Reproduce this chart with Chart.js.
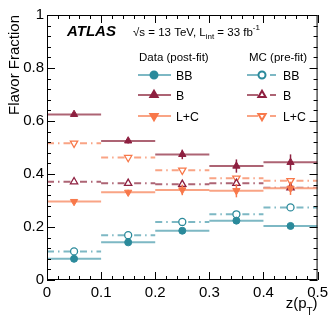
<!DOCTYPE html>
<html>
<head>
<meta charset="utf-8">
<script src="https://cdn.jsdelivr.net/npm/chart.js@4.4.1/dist/chart.umd.min.js"></script>
<style>
  body { margin: 0; background: #fff; }
  #wrap { width: 332px; height: 319px; }
</style>
</head>
<body>
<div id="wrap"><canvas id="flavorChart"></canvas></div>
<script>
// bin edges in z(pT)
const bins = [0, 0.1, 0.2, 0.3, 0.4, 0.5];

// Data (post-fit)
const dataBB = [0.080, 0.142, 0.186, 0.224, 0.204];
const dataBBErr = [0.004, 0.005, 0.006, 0.008, 0.008];
const dataB = [0.625, 0.525, 0.474, 0.430, 0.444];
const dataBErr = [0.004, 0.010, 0.018, 0.025, 0.030];
const dataLC = [0.296, 0.331, 0.340, 0.337, 0.346];
const dataLCErr = [0.004, 0.010, 0.020, 0.025, 0.025];

// MC (pre-fit)
const mcBB = [0.108, 0.169, 0.219, 0.248, 0.274];
const mcB = [0.371, 0.365, 0.361, 0.365, 0.348];
const mcLC = [0.516, 0.462, 0.414, 0.384, 0.375];

const yTicks = ['0', '0.2', '0.4', '0.6', '0.8', '1'];
const xTicks = ['0', '0.1', '0.2', '0.3', '0.4', '0.5'];

const teal = '#2b8a9b', tealLine = '#7db8c4';
const red = '#8e2040', redLine = '#ad6474';
const orange = '#f8784a', orangeLine = '#f9a485';
const mcDash = [7, 4, 1.5, 4];
const FONT = '"Liberation Sans", Arial, Helvetica, sans-serif';
const RC = 3.5, RT = 4.2;

const centers = bins.slice(0, -1).map((b, i) => (b + bins[i + 1]) / 2);

function steps(values) {
    const pts = [];
    values.forEach((v, i) => {
        pts.push({x: bins[i], y: v}, {x: bins[i + 1], y: v}, {x: bins[i + 1], y: null});
    });
    return pts;
}
function markers(values) {
    return values.map((v, i) => ({x: centers[i], y: v}));
}

function lineSet(values, color, dash) {
    return {
        data: steps(values), borderColor: color, borderWidth: 2,
        borderDash: dash || [], pointRadius: 0, spanGaps: false, order: 2
    };
}
function markerSet(values, color, style, radius, rotation, open, err) {
    return {
        data: markers(values), showLine: false, pointStyle: style,
        pointRadius: radius, pointRotation: rotation || 0,
        pointBackgroundColor: open ? '#fff' : color, pointBorderColor: color,
        pointBorderWidth: open ? 1.3 : 1, order: open ? 1 : 0, errors: err
    };
}

const errorBars = {
    id: 'errorBars',
    afterDatasetsDraw(chart) {
        const c = chart.ctx, xs = chart.scales.x, ys = chart.scales.y;
        c.save();
        c.lineWidth = 1.5;
        chart.data.datasets.forEach(ds => {
            if (!ds.errors) return;
            c.strokeStyle = ds.pointBorderColor;
            ds.data.forEach((p, i) => {
                const px = xs.getPixelForValue(p.x);
                c.beginPath();
                c.moveTo(px, ys.getPixelForValue(p.y - ds.errors[i]));
                c.lineTo(px, ys.getPixelForValue(p.y + ds.errors[i]));
                c.stroke();
            });
        });
        c.restore();
    }
};

const frame = {
    id: 'frame',
    afterDraw(chart) {
        const c = chart.ctx, a = chart.chartArea;
        const xs = chart.scales.x, ys = chart.scales.y;
        c.save();
        c.strokeStyle = '#000';
        c.lineWidth = 1;
        c.strokeRect(a.left + 0.5, a.top + 0.5, a.right - a.left - 1, a.bottom - a.top - 1);
        c.beginPath();
        for (let k = 0; k <= 25; k++) {
            const py = Math.round(ys.getPixelForValue(k * 0.04)) + 0.5;
            const len = k % 5 === 0 ? 8 : 4;
            c.moveTo(a.left, py); c.lineTo(a.left + len, py);
            c.moveTo(a.right, py); c.lineTo(a.right - len, py);
        }
        for (let k = 0; k <= 25; k++) {
            const px = Math.round(xs.getPixelForValue(k * 0.02)) + 0.5;
            const len = k % 5 === 0 ? 8 : 4;
            c.moveTo(px, a.bottom); c.lineTo(px, a.bottom - len);
            c.moveTo(px, a.top); c.lineTo(px, a.top + len);
        }
        c.stroke();

        // axis titles
        c.fillStyle = '#000';
        c.font = '15px ' + FONT;
        c.save();
        c.translate(19, a.top);
        c.rotate(-Math.PI / 2);
        c.textAlign = 'right';
        c.fillText('Flavor Fraction', 0, 0);
        c.restore();

        c.textAlign = 'left';
        const big = '15px ' + FONT, small = '10px ' + FONT;
        c.font = big; const w1 = c.measureText('z(p').width, w3 = c.measureText(')').width;
        c.font = small; const w2 = c.measureText('T').width;
        let x0 = a.right - (w1 + w2 + w3);
        c.font = big; c.fillText('z(p', x0, 308);
        c.font = small; c.fillText('T', x0 + w1, 315);
        c.font = big; c.fillText(')', x0 + w1 + w2, 308);

        // ATLAS label
        c.font = 'italic bold 15px ' + FONT;
        c.fillText('ATLAS', 67, 36);
        const t = '11.5px ' + FONT, ts = '8px ' + FONT;
        let x = 133;
        const parts = [['\u221As = 13 TeV, L', t, 36], ['int', ts, 39], [' = 33 fb', t, 36], ['-1', ts, 30]];
        parts.forEach(p => { c.font = p[1]; c.fillText(p[0], x, p[2]); x += c.measureText(p[0]).width; });

        // legend
        c.font = '11.5px ' + FONT;
        c.fillText('Data (post-fit)', 139, 61);
        c.fillText('MC (pre-fit)', 249, 61);
        const rows = [
            ['BB', teal, tealLine, 'circle', RC, 0, 75],
            ['B', red, redLine, 'triangle', RT, 0, 95],
            ['L+C', orange, orangeLine, 'triangle', RT, 180, 116]
        ];
        c.font = '12.3px ' + FONT;
        rows.forEach(r => {
            const [lab, col, lcol, style, rad, rot, y] = r;
            c.lineWidth = 2;
            c.strokeStyle = lcol;
            c.beginPath(); c.moveTo(138, y); c.lineTo(171, y); c.stroke();
            c.beginPath(); c.moveTo(247, y); c.lineTo(258, y); c.moveTo(270, y); c.lineTo(276, y); c.stroke();
            c.fillStyle = col; c.strokeStyle = col;
            Chart.helpers.drawPoint(c, {pointStyle: style, radius: rad, rotation: rot, borderWidth: 1}, 154, y);
            c.fillStyle = '#fff';
            Chart.helpers.drawPoint(c, {pointStyle: style, radius: rad, rotation: rot, borderWidth: 1.3}, 262, y);
            c.fillStyle = '#000';
            c.fillText(lab, 176, y + 4.5);
            c.fillText(lab, 283, y + 4.5);
        });
        c.restore();
    }
};

new Chart(document.getElementById('flavorChart'), {
    type: 'line',
    data: {
        datasets: [
            markerSet(dataBB, teal, 'circle', RC, 0, false, dataBBErr),
            markerSet(dataB, red, 'triangle', RT, 0, false, dataBErr),
            markerSet(dataLC, orange, 'triangle', RT, 180, false, dataLCErr),
            markerSet(mcBB, teal, 'circle', RC, 0, true),
            markerSet(mcB, red, 'triangle', RT, 0, true),
            markerSet(mcLC, orange, 'triangle', RT, 180, true),
            lineSet(dataBB, tealLine),
            lineSet(dataB, redLine),
            lineSet(dataLC, orangeLine),
            lineSet(mcBB, tealLine, mcDash),
            lineSet(mcB, redLine, mcDash),
            lineSet(mcLC, orangeLine, mcDash)
        ]
    },
    options: {
        responsive: true,
        maintainAspectRatio: false,
        animation: false,
        devicePixelRatio: 1,
        layout: {padding: {top: 15, right: 10, left: 0, bottom: 0}},
        plugins: {legend: {display: false}, tooltip: {enabled: false}},
        scales: {
            x: {
                type: 'linear', min: 0, max: 0.5,
                grid: {display: false, drawTicks: false},
                border: {display: false},
                afterFit: s => { s.height = 39; },
                ticks: {
                    stepSize: 0.1, padding: 4, color: '#000', maxRotation: 0,
                    font: {family: FONT, size: 15},
                    callback: (v, i) => xTicks[i]
                }
            },
            y: {
                min: 0, max: 1,
                grid: {display: false, drawTicks: false},
                border: {display: false},
                afterFit: s => { s.width = 47; },
                ticks: {
                    stepSize: 0.2, padding: 3, color: '#000',
                    font: {family: FONT, size: 15},
                    callback: (v, i) => yTicks[i]
                }
            }
        }
    },
    plugins: [errorBars, frame]
});
</script>
</body>
</html>
